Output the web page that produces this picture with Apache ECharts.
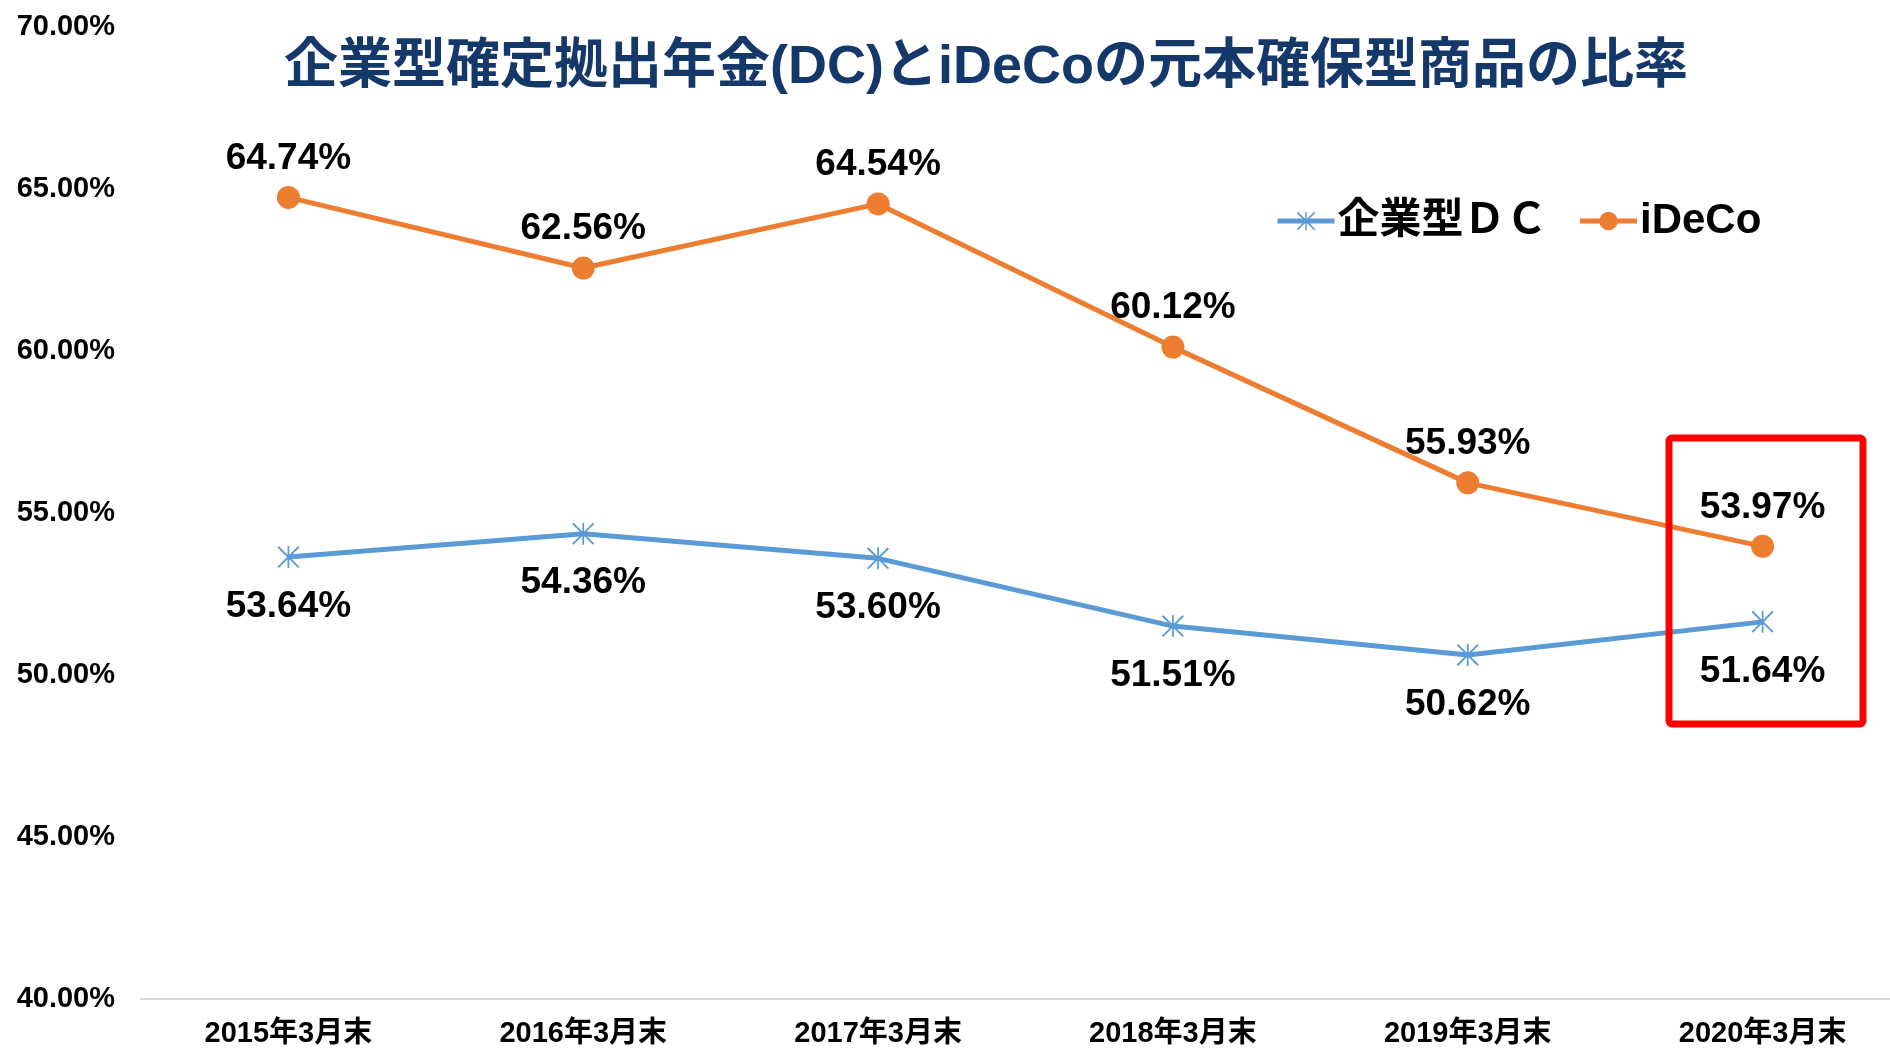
<!DOCTYPE html>
<html>
<head>
<meta charset="utf-8">
<script src="https://cdn.jsdelivr.net/npm/echarts@6/dist/echarts.min.js"></script>
<style>
html,body{margin:0;padding:0;background:#fff;}
#chart{width:1890px;height:1050px;}
</style>
</head>
<body>
<div id="chart"></div>
<script>
const titleText = '企業型確定拠出年金(DC)とiDeCoの元本確保型商品の比率';
const categories = ['2015年3月末','2016年3月末','2017年3月末','2018年3月末','2019年3月末','2020年3月末'];
const seriesNames = ['企業型ＤＣ','iDeCo'];
const dcValues = [53.64, 54.36, 53.60, 51.51, 50.62, 51.64];
const idecoValues = [64.74, 62.56, 64.54, 60.12, 55.93, 53.97];
const yMin = 40, yMax = 70, yStep = 5;

const FONT = '"Liberation Sans", Arial, "Noto Sans CJK JP", sans-serif';
const asterisk = 'path://M46,0 L54,0 L54,100 L46,100 Z M0,6 L6,0 L100,94 L94,100 Z M6,100 L0,94 L94,0 L100,6 Z';

const chart = echarts.init(document.getElementById('chart'));
chart.setOption({
  animation: false,
  backgroundColor: '#ffffff',
  title: {
    text: titleText,
    left: 981, top: 36,
    textAlign: 'center',
    textStyle: {fontFamily: FONT, fontSize: 54, fontWeight: 'bold', color: '#15386A'}
  },
  legend: {
    left: 1270, top: 195,
    itemWidth: 57, itemHeight: 23, itemGap: 30,
    lineStyle: {width: 5},
    textStyle: {fontFamily: FONT, fontSize: 42, fontWeight: 'bold', color: '#000', padding: [0,0,0,-2]},
    data: seriesNames
  },
  grid: {left: 141, right: -20, top: 27, bottom: 51, containLabel: false, outerBoundsMode: 'none'},
  xAxis: {
    type: 'category',
    data: categories,
    boundaryGap: true,
    axisLine: {show: true, lineStyle: {color: '#D9D9D9', width: 2}},
    axisTick: {show: false},
    axisLabel: {fontFamily: FONT, fontSize: 29, fontWeight: 'bold', color: '#000', margin: 20}
  },
  yAxis: {
    type: 'value',
    min: yMin, max: yMax, interval: yStep,
    axisLine: {show: false},
    axisTick: {show: false},
    splitLine: {show: false},
    axisLabel: {fontFamily: FONT, fontSize: 29, fontWeight: 'bold', color: '#000', margin: 26,
      formatter: v => v.toFixed(2) + '%'}
  },
  series: [
    {
      name: seriesNames[0], type: 'line', data: dcValues,
      symbol: asterisk, symbolSize: 22,
      itemStyle: {color: '#5B9BD5'},
      lineStyle: {color: '#5B9BD5', width: 5},
      label: {show: true, position: 'bottom', distance: 20, fontFamily: FONT, fontSize: 37, fontWeight: 'bold', color: '#000',
        formatter: p => p.value.toFixed(2) + '%'}
    },
    {
      name: seriesNames[1], type: 'line', data: idecoValues,
      symbol: 'circle', symbolSize: 23,
      itemStyle: {color: '#ED7D31'},
      lineStyle: {color: '#ED7D31', width: 5},
      label: {show: true, position: 'top', distance: 9, fontFamily: FONT, fontSize: 37, fontWeight: 'bold', color: '#000',
        formatter: p => p.value.toFixed(2) + '%'}
    }
  ],
  graphic: [
    {type: 'rect', z: 100, shape: {x: 1669, y: 438, width: 194, height: 286, r: 3},
     style: {fill: 'none', stroke: '#FF0000', lineWidth: 7}}
  ]
});
</script>
</body>
</html>
